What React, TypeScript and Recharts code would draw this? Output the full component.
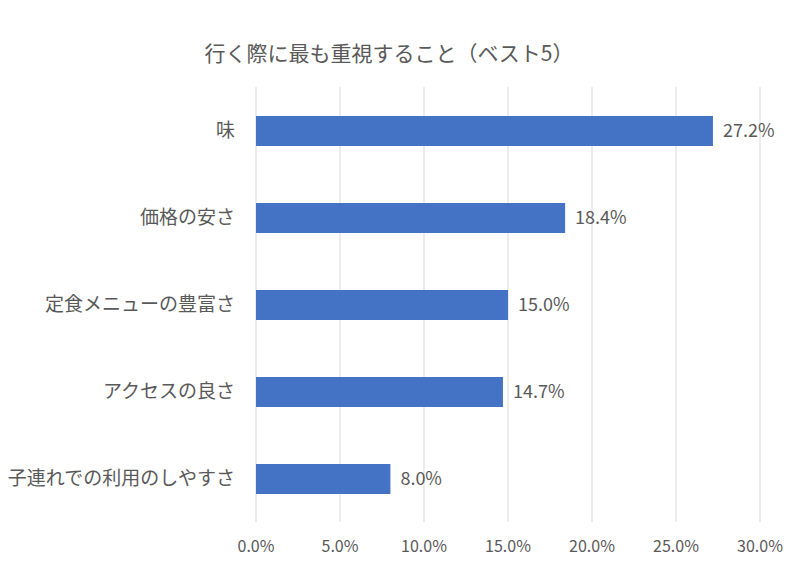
import React from 'react';
import { BarChart, Bar, XAxis, YAxis, CartesianGrid, LabelList } from 'recharts';

const title = '行く際に最も重視すること（ベスト5）';
const categories = ['味', '価格の安さ', '定食メニューの豊富さ', 'アクセスの良さ', '子連れでの利用のしやすさ'];
const values = [27.2, 18.4, 15.0, 14.7, 8.0];
const xTicks = [0, 5, 10, 15, 20, 25, 30];

const data = categories.map((c, i) => ({ name: c, value: values[i] }));
const FONT = '"Noto Sans CJK JP", "Noto Sans", sans-serif';
const TEXT = '#595959';

export default function App() {
  return (
    <div style={{ position: 'absolute', left: 0, top: 0, width: 800, height: 581, background: '#fff', fontFamily: FONT }}>
      <div style={{ position: 'absolute', left: 0, width: 778, top: 36, textAlign: 'center', fontSize: 21, color: TEXT, lineHeight: '32px' }}>
        {title}
      </div>
      <BarChart
        width={800}
        height={581}
        data={data}
        layout="vertical"
        margin={{ top: 87, right: 40, bottom: 0, left: 0 }}
        barSize={30}
      >
        <CartesianGrid horizontal={false} stroke="#d9d9d9" />
        <XAxis
          type="number"
          domain={[0, 30]}
          ticks={xTicks}
          tickFormatter={(v: number) => v.toFixed(1) + '%'}
          axisLine={false}
          tickLine={false}
          tickSize={0}
          tickMargin={19}
          height={59}
          tick={{ fill: TEXT, fontSize: 16, fontFamily: FONT }}
        />
        <YAxis
          type="category"
          dataKey="name"
          width={256}
          axisLine={false}
          tickLine={false}
          tickSize={0}
          tickMargin={21}
          tick={{ fill: TEXT, fontSize: 19, fontFamily: FONT }}
        />
        <Bar dataKey="value" fill="#4472C4" isAnimationActive={false}>
          <LabelList
            dataKey="value"
            position="right"
            offset={10}
            formatter={(v: number) => v.toFixed(1) + '%'}
            style={{ fill: TEXT, fontSize: 18, fontFamily: FONT }}
          />
        </Bar>
      </BarChart>
    </div>
  );
}
